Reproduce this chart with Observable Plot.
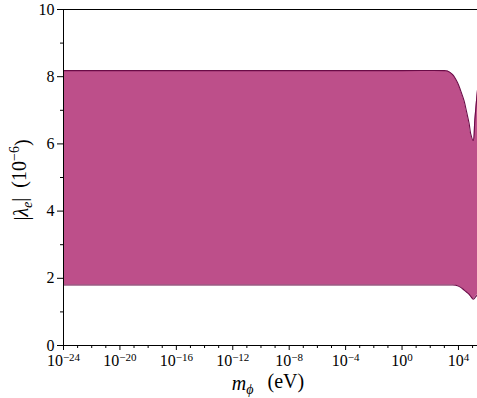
<!DOCTYPE html>
<html><head><meta charset="utf-8">
<script src="https://cdn.jsdelivr.net/npm/d3@7"></script>
<script src="https://cdn.jsdelivr.net/npm/@observablehq/plot@0.6"></script>
<style>body{margin:0;background:#fff}</style>
</head><body><div id="chart"></div>
<script>
// log10 of m_phi (eV) and band edges of |lambda_e| (1e-6)
const logMass = [-24, -12, 0, 3.0, 3.22, 3.57, 3.93, 4.16, 4.40, 4.59, 4.76, 4.87, 5.05, 5.16, 5.28, 5.35];
const upper   = [8.18, 8.18, 8.18, 8.18, 8.17, 8.07, 7.83, 7.58, 7.28, 6.93, 6.60, 6.30, 6.10, 6.70, 7.29, 7.60];
const lower   = [1.80, 1.80, 1.80, 1.80, 1.80, 1.80, 1.78, 1.73, 1.65, 1.585, 1.52, 1.46, 1.375, 1.42, 1.48, 1.51];
const xMajorExp = [-24, -20, -16, -12, -8, -4, 0, 4];
const yMajor = [0, 2, 4, 6, 8, 10];
const yMinor = [1, 3, 5, 7, 9];

const data = logMass.map((e, i) => ({m: Math.pow(10, e), hi: upper[i], lo: lower[i]}));
const xMajor = xMajorExp.map(e => Math.pow(10, e));
const xMinor = d3.range(-24, 6).filter(e => !xMajorExp.includes(e)).map(e => Math.pow(10, e));
const xMax = Math.pow(10, 5.35);

const fill = "#bd4f8a", stroke = "#6a0b47";
const font = "'Liberation Serif', 'DejaVu Serif', serif";

const chart = Plot.plot({
  width: 477, height: 398,
  marginLeft: 63, marginRight: 0, marginTop: 9, marginBottom: 53,
  style: {fontFamily: font, fontSize: "16px", color: "#000", background: "#fff"},
  x: {type: "log", domain: [1e-24, xMax], label: null},
  y: {domain: [0, 10], label: null},
  marks: [
    Plot.areaY(data, {x: "m", y1: "lo", y2: "hi", fill, curve: "catmull-rom"}),
    Plot.lineY(data, {x: "m", y: "hi", stroke, strokeWidth: 1.1, curve: "catmull-rom"}),
    Plot.lineY(data, {x: "m", y: "lo", stroke, strokeWidth: 1.1, curve: "catmull-rom"}),
    Plot.ruleY([0, 10], {stroke: "#000", strokeWidth: 1}),
    Plot.ruleX([1e-24], {stroke: "#000", strokeWidth: 1}),
    Plot.axisY(yMajor, {tickSize: 6, tickPadding: 3, tickFormat: d => String(d), fontSize: 16}),
    Plot.axisY(yMinor, {tickSize: 3, tickFormat: () => ""}),
    Plot.axisX(xMajor, {tickSize: 5, tickPadding: 4, tickFormat: d => String(Math.round(Math.log10(d))).replace("-", "\u2212"), fontSize: 16}),
    Plot.axisX(xMinor, {tickSize: 3, tickFormat: () => ""})
  ]
});
document.getElementById("chart").appendChild(chart);

const svg = d3.select(chart);
// x tick labels as 10^n
svg.selectAll('g[aria-label="x-axis tick label"] text').each(function() {
  const t = d3.select(this);
  const exp = t.text();
  if (!exp) return;
  t.text(null);
  t.append("tspan").text("10");
  t.append("tspan").attr("dy", "-0.45em").attr("font-size", "11px").text(exp);
});

// x axis label
const xl = svg.append("text")
  .attr("x", 268).attr("y", 390)
  .attr("text-anchor", "middle")
  .attr("font-family", font).attr("font-size", "20px").attr("fill", "#000");
xl.append("tspan").attr("font-style", "italic").text("m");
xl.append("tspan").attr("font-style", "italic").attr("font-size", "14px").attr("dy", "0.3em").text("\u03d5");
xl.append("tspan").attr("dy", "-0.3em").attr("dx", "14").text("(eV)");

// y axis label
const yl = svg.append("text")
  .attr("transform", "translate(28,180) rotate(-90)")
  .attr("text-anchor", "middle")
  .attr("font-family", font).attr("font-size", "20px").attr("fill", "#000");
yl.append("tspan").text("|");
yl.append("tspan").attr("font-style", "italic").text("\u03bb");
yl.append("tspan").attr("font-style", "italic").attr("font-size", "14px").attr("dy", "0.3em").text("e");
yl.append("tspan").attr("dy", "-0.3em").text("|");
yl.append("tspan").attr("dx", "10").text("(10");
yl.append("tspan").attr("font-size", "14px").attr("dy", "-0.5em").text("\u22126");
yl.append("tspan").attr("dy", "0.5em").text(")");
</script>
</body></html>
